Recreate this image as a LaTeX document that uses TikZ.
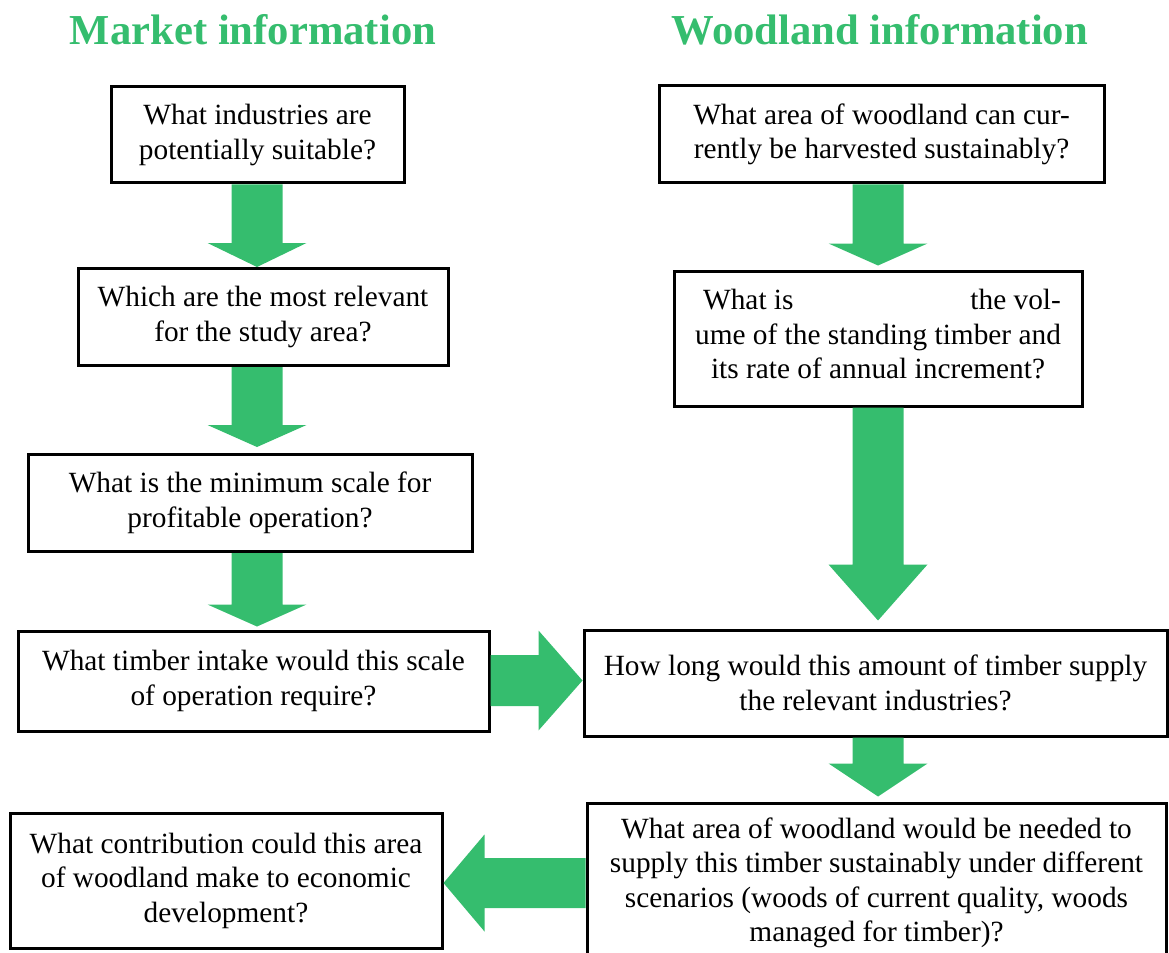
\documentclass[tikz,border=0pt]{standalone}
\usepackage{fontspec}
\setmainfont{Liberation Serif}
\usetikzlibrary{calc}
\definecolor{gr}{RGB}{53,189,110}
\newcommand\vgarrow[5]{%
 \fill[garrow] ($(#2.south -| #1)+(-25.5,0)$) -- ($(#3.north -| #1)+(-25.5,-#4-#5)$) -- ($(#3.north -| #1)+(-49.5,-#4-#5)$) -- ($(#3.north -| #1)+(0,-#4)$) -- ($(#3.north -| #1)+(49.5,-#4-#5)$) -- ($(#3.north -| #1)+(25.5,-#4-#5)$) -- ($(#2.south -| #1)+(25.5,0)$) -- cycle;}
\newcommand\hgarrowR[5]{%
 \fill[garrow] ($(#2.east |- #1)+(0,-25.5)$) -- ($(#3.west |- #1)+(-#4-#5,-25.5)$) -- ($(#3.west |- #1)+(-#4-#5,-50)$) -- ($(#3.west |- #1)+(-#4,0)$) -- ($(#3.west |- #1)+(-#4-#5,50)$) -- ($(#3.west |- #1)+(-#4-#5,25.5)$) -- ($(#2.east |- #1)+(0,25.5)$) -- cycle;}
\newcommand\hgarrowL[5]{%
 \fill[garrow] ($(#2.west |- #1)+(0,-25)$) -- ($(#3.east |- #1)+(#4+#5,-25)$) -- ($(#3.east |- #1)+(#4+#5,-48.5)$) -- ($(#3.east |- #1)+(#4,0)$) -- ($(#3.east |- #1)+(#4+#5,48.5)$) -- ($(#3.east |- #1)+(#4+#5,25)$) -- ($(#2.west |- #1)+(0,25)$) -- cycle;}
\begin{document}
\begin{tikzpicture}[x=0.75pt,y=-0.75pt,
  qbox/.style 2 args={draw=black, line width=2.25pt, fill=white, rectangle, inner sep=0pt,
    minimum width=#1*0.75pt, minimum height=#2*0.75pt, align=center,
    font=\fontsize{22}{25.9}\selectfont},
  ttl/.style={text=gr, font=\fontsize{32}{38}\selectfont\bfseries, anchor=base},
  garrow/.style={fill=gr}]
\useasboundingbox (0,0) rectangle (1169,952);

\node[ttl] (tm) at (253,45) {Market information};
\node[ttl] (tw) at (880,45) {Woodland information};

\node[qbox={293}{96}] (m1) at (257.5,135) {What industries are\\potentially suitable?};
\node[qbox={370}{97}] (m2) at (263,317) {Which are the most relevant\\for the study area?};
\node[qbox={444}{97}] (m3) at (250,503) {What is the minimum scale for\\profitable operation?};
\node[qbox={471}{100}] (m4) at (253.5,681) {What timber intake would this scale\\of operation require?};
\node[qbox={432}{135}] (m5) at (226,880.5) {What contribution could this area\\of woodland make to economic\\development?};

\node[qbox={445}{97}] (w1) at (881.5,134.5) {What area of woodland can cur-\\rently be harvested sustainably?};
\node[qbox={408}{135}, text depth=7pt] (w2) at (878,338.5) {\setbox0\hbox{ume of the standing timber and}\hbox to \wd0{\hspace{6pt}What is\hfill the vol-}\\ume of the standing timber and\\its rate of annual increment?};
\node[qbox={583}{106}] (w3) at (875.5,683) {How long would this amount of timber supply\\the relevant industries?};
\node[qbox={579}{160}] (w4) at (876.5,883) {What area of woodland would be needed to\\supply this timber sustainably under different\\scenarios (woods of current quality, woods\\managed for timber)?};

\coordinate (ml) at (257,0);
\coordinate (wl) at (878,0);
\coordinate (ha) at (0,680.5);
\coordinate (hb) at (0,883);

\vgarrow{ml}{m1}{m2}{0}{24}
\vgarrow{ml}{m2}{m3}{6}{22}
\vgarrow{ml}{m3}{m4}{3}{22}
\vgarrow{wl}{w1}{w2}{4}{22}
\vgarrow{wl}{w2}{w3}{8}{56}
\vgarrow{wl}{w3}{w4}{5}{33}
\hgarrowR{ha}{m4}{w3}{0}{44}
\hgarrowL{hb}{w4}{m5}{0}{41}
\end{tikzpicture}
\end{document}
